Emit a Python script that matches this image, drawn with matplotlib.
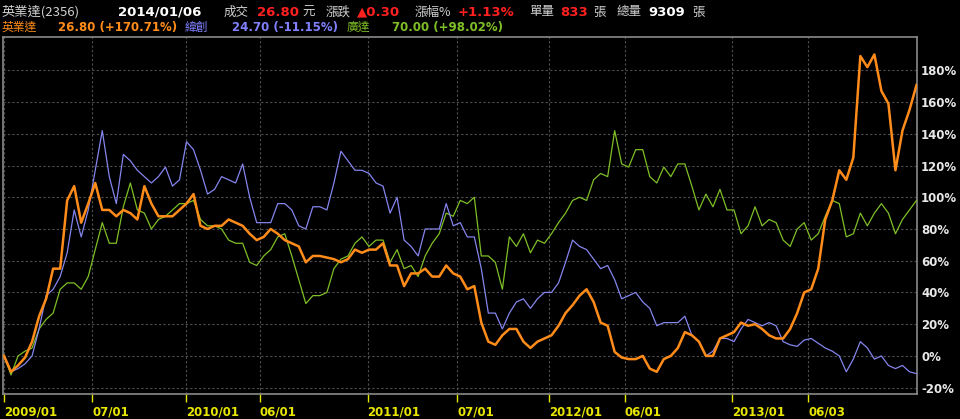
import matplotlib
matplotlib.use('Agg')
import matplotlib.pyplot as plt
import matplotlib.ticker as mticker
import pandas as pd

# biweekly samples, 2009/01/05 .. 2014/01/06, in % change
dates = pd.date_range('2009-01-05', '2014-01-06', periods=131)

inventec = [0, -10, -6, -1, 9, 25, 36, 55, 55, 98, 107, 84, 96, 109, 92, 92, 88, 92, 90, 86,
            107, 96, 88, 88, 88, 92, 96, 102, 82, 80, 82, 82, 86, 84, 82, 77, 73, 75, 80, 77,
            73, 71, 69, 59, 63, 63, 62, 61, 59, 61, 67, 65, 67, 67, 71, 57, 57, 44, 52, 52,
            55, 50, 50, 57, 52, 50, 42, 44, 21, 9, 7, 13, 17, 17, 9, 5, 9, 11, 13, 19,
            27, 32, 38, 42, 34, 21, 19, 2.5, -1, -2, -2, 0, -8, -10, -2, 0, 5, 15, 13, 9,
            0, 0, 11, 13, 15, 21, 19, 20, 17, 13, 11, 11, 17, 27, 40, 42, 55, 86, 98, 117,
            111, 125, 189, 182, 190, 167, 159, 117, 142, 155, 170.71]

wistron = [0, -10, -8, -5, 0, 17, 38, 42, 50, 65, 92, 75, 92, 117, 142, 113, 96, 127, 123, 117,
           113, 109, 113, 119, 107, 111, 135, 130, 117, 102, 105, 113, 111, 109, 121, 100, 84, 84, 84, 96,
           96, 92, 82, 80, 94, 94, 92, 109, 129, 123, 117, 117, 115, 109, 107, 90, 100, 73, 69, 63,
           80, 80, 80, 96, 82, 84, 75, 75, 55, 27, 27, 17, 27, 34, 36, 30, 36, 40, 40, 46,
           59, 73, 69, 67, 61, 55, 57, 48, 36, 38, 40, 34, 30, 19, 21, 21, 21, 25, 13, 9,
           0, 3, 11, 11, 9, 17, 23, 21, 19, 21, 19, 9, 7, 6, 10, 11, 8, 5, 3, 0,
           -10, -2, 9, 5, -2, 0, -6, -8, -6, -10, -11.15]

quanta = [0, -12, 0, 3, 5, 17, 23, 27, 42, 46, 46, 42, 50, 67, 84, 71, 71, 94, 109, 92,
          90, 80, 86, 88, 92, 96, 96, 98, 86, 82, 82, 80, 73, 71, 71, 59, 57, 63, 67, 75,
          77, 63, 48, 33, 38, 38, 40, 55, 61, 63, 71, 75, 69, 73, 73, 59, 67, 55, 57, 50,
          63, 71, 77, 90, 88, 98, 96, 100, 63, 63, 59, 42, 75, 69, 77, 65, 73, 71, 77, 84,
          90, 98, 100, 98, 111, 115, 113, 142, 121, 119, 130, 130, 113, 109, 119, 113, 121, 121, 107, 92,
          102, 94, 105, 92, 92, 77, 82, 94, 82, 86, 84, 73, 69, 80, 84, 73, 77, 88, 98, 96,
          75, 77, 90, 82, 90, 96, 90, 77, 86, 92, 98.02]

tick_dates = ['2009-01-05', '2009-07-01', '2010-01-04', '2010-06-01', '2011-01-03',
              '2011-07-01', '2012-01-02', '2012-06-01', '2013-01-02', '2013-06-03']
tick_labels = ['2009/01', '07/01', '2010/01', '06/01', '2011/01',
               '07/01', '2012/01', '06/01', '2013/01', '06/03']
y_ticks = [-20, 0, 20, 40, 60, 80, 100, 120, 140, 160, 180]

ORANGE = '#ff8c1a'
BLUE = '#8585ee'
GREEN = '#7fbf26'
CJK = ['Noto Sans CJK TC', 'DejaVu Sans']

fig = plt.figure(figsize=(9.6, 4.19), dpi=100, facecolor='black')
ax = fig.add_axes([3 / 960, 25 / 419, 914 / 960, 357 / 419])
ax.set_facecolor('black')

ax.plot(dates, quanta, color=GREEN, lw=0.9, zorder=3)
ax.plot(dates, wistron, color=BLUE, lw=0.9, zorder=3)
ax.plot(dates, inventec, color=ORANGE, lw=1.8, zorder=4)

ax.set_xlim(pd.Timestamp('2009-01-03'), pd.Timestamp('2014-01-07'))
ax.set_ylim(-24, 201)

ax.set_xticks(pd.to_datetime(tick_dates))
ax.set_xticklabels(tick_labels)
ax.set_yticks(y_ticks)
ax.yaxis.set_major_formatter(mticker.FuncFormatter(lambda v, p: '%d%%' % v))
ax.yaxis.tick_right()

ax.tick_params(axis='x', colors='#e6e600', length=6, width=1, pad=2, labelsize=8.5)
ax.tick_params(axis='y', colors='#e8e8e8', length=0, pad=3, labelsize=8.5)
for lab in ax.get_xticklabels():
    lab.set_fontweight('bold')
    lab.set_horizontalalignment('left')
    lab.set_color('#e6e600')
for lab in ax.get_yticklabels():
    lab.set_fontweight('bold')

ax.grid(True, color='#505050', ls=(0, (2, 2)), lw=0.8)
for s in ax.spines.values():
    s.set_color('#8a8a8a')
    s.set_linewidth(1.2)


def put(x, y, s, color, bold=False, size=8.5, cjk=False):
    fig.text(x / 960, 1 - y / 419, s, color=color, fontsize=size, va='center', ha='left',
             fontweight='bold' if bold else 'normal',
             family=CJK if cjk else 'DejaVu Sans')


GRAY = '#d0d0d0'
RED = '#ff2020'
# first header row
put(2, 12, '英業達(2356)', GRAY, size=9.5, cjk=True)
put(118, 12, '2014/01/06', 'white', bold=True, size=9.5)
put(224, 12, '成交', GRAY, size=9, cjk=True)
put(257, 12, '26.80', RED, bold=True, size=9.5)
put(302, 12, '元', GRAY, size=9, cjk=True)
put(326, 12, '漲跌', GRAY, size=9, cjk=True)
put(357, 12, '▲0.30', RED, bold=True, size=9.5)
put(415, 12, '漲幅%', GRAY, size=9, cjk=True)
put(458, 12, '+1.13%', RED, bold=True, size=9.5)
put(529, 12, '單量', GRAY, size=9, cjk=True)
put(560, 12, '833', RED, bold=True, size=9.5)
put(593, 12, '張', GRAY, size=9, cjk=True)
put(617, 12, '總量', GRAY, size=9, cjk=True)
put(648, 12, '9309', 'white', bold=True, size=9.5)
put(692, 12, '張', GRAY, size=9, cjk=True)

# second header row (legend)
put(2, 27, '英業達', ORANGE, size=8.5, cjk=True)
put(58, 27, '26.80 (+170.71%)', ORANGE, bold=True, size=8.5)
put(185, 27, '緯創', '#8080ff', size=8.5, cjk=True)
put(232, 27, '24.70 (-11.15%)', '#8080ff', bold=True, size=8.5)
put(347, 27, '廣達', GREEN, size=8.5, cjk=True)
put(392, 27, '70.00 (+98.02%)', GREEN, bold=True, size=8.5)

fig.savefig('out.png', dpi=100, facecolor='black')
